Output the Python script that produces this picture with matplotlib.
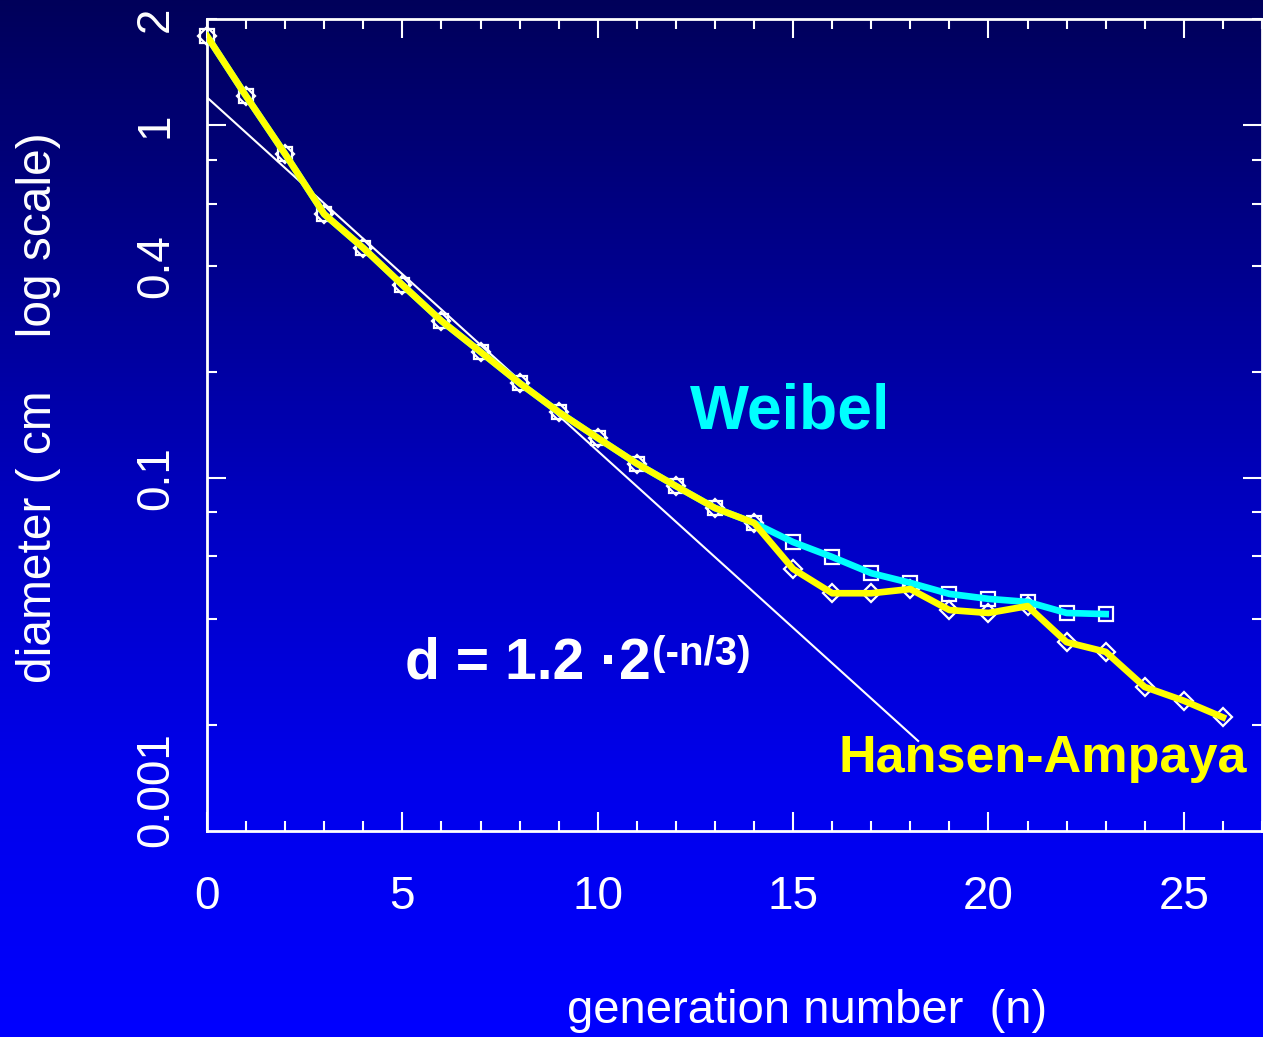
import numpy as np
import matplotlib
matplotlib.use('Agg')
import matplotlib.pyplot as plt
import matplotlib.transforms as mtransforms
from matplotlib.ticker import FixedLocator, MultipleLocator, FuncFormatter

plt.rcParams['font.family'] = ['Liberation Sans', 'DejaVu Sans']

# Hansen-Ampaya: diameter (cm) per generation 0..26
ha_gen = list(range(27))
ha_diam = [1.79, 1.21, 0.829, 0.560, 0.449, 0.353, 0.279, 0.228, 0.186, 0.154,
           0.130, 0.110, 0.095, 0.0823, 0.0747, 0.0553, 0.0472, 0.0472, 0.0485,
           0.0423, 0.0415, 0.0434, 0.0343, 0.0322, 0.0256, 0.0234, 0.0210]

# Weibel: diameter (cm) per generation 0..23
wb_gen = list(range(24))
wb_diam = [1.79, 1.21, 0.829, 0.560, 0.449, 0.353, 0.279, 0.228, 0.186, 0.154,
           0.130, 0.110, 0.095, 0.0823, 0.0747, 0.0659, 0.0598, 0.0538, 0.0505,
           0.0470, 0.0455, 0.0446, 0.0415, 0.0412]

# d = 1.2 * 2^(-n/3), straight on log axis: end points
fit_gen = [0, 18.2]
fit_diam = [1.2, 0.018]

# y axis ticks and their (original) labels
y_major = [1, 0.1]
y_minor = [2, 0.8, 0.6, 0.4, 0.2, 0.08, 0.06, 0.04, 0.02]
y_labels = {2: '2', 1: '1', 0.4: '0.4', 0.1: '0.1'}
y_bottom_label = '0.001'

fig = plt.figure(figsize=(12.63, 10.37), dpi=100)

# background gradient: dark navy at top -> bright blue at bottom
bg = fig.add_axes([0, 0, 1, 1], zorder=-10)
rows = np.linspace(0, 1, 512)
blue = np.interp(rows, [0, 0.25, 0.5, 0.75, 1.0], [90, 140, 195, 235, 255]) / 255
grad = np.zeros((512, 1, 3))
grad[:, 0, 2] = blue
bg.imshow(grad, aspect='auto', extent=[0, 1, 0, 1], origin='upper')
bg.axis('off')

ax = fig.add_axes([0.1639, 0.1986, 0.8353, 0.7830])
ax.set_facecolor('none')

# markers first, lines drawn over them
ax.plot(wb_gen, wb_diam, ls='none', marker='s', ms=9.5, mfc='none', mec='white',
        mew=1.6, zorder=2, clip_on=False)
ax.plot(ha_gen, ha_diam, ls='none', marker='D', ms=9, mfc='none', mec='white',
        mew=1.6, zorder=2, clip_on=False)
ax.plot(fit_gen, fit_diam, color='white', lw=1.5, zorder=2.5)
ax.plot(wb_gen, wb_diam, color='#00FFFF', lw=4.8, zorder=3)
ax.plot(ha_gen, ha_diam, color='#FFFF00', lw=4.8, zorder=4)

ax.set_yscale('log')
ax.set_ylim(0.01, 2)
ax.set_xlim(0, 27)

ax.xaxis.set_major_locator(MultipleLocator(5))
ax.xaxis.set_minor_locator(MultipleLocator(1))
ax.yaxis.set_major_locator(FixedLocator(y_major))
ax.yaxis.set_minor_locator(FixedLocator(y_minor))
fmt = FuncFormatter(lambda v, p: y_labels.get(round(v, 4), ''))
ax.yaxis.set_major_formatter(fmt)
ax.yaxis.set_minor_formatter(fmt)

ax.tick_params(which='both', direction='in', top=True, right=True,
               colors='white', width=1.5)
ax.tick_params(which='major', length=14)
ax.tick_params(which='minor', length=7)
ax.tick_params(axis='x', which='both', labelsize=33, pad=32)
ax.tick_params(axis='y', which='both', labelsize=33, pad=21, labelrotation=90)
for lab in ax.get_yticklabels(which='both'):
    lab.set_verticalalignment('center')

for sp in ax.spines.values():
    sp.set_color('white')
    sp.set_linewidth(2)

ax.set_xlabel('generation number  (n)', fontsize=34, color='white')
ax.xaxis.set_label_coords(0.569, -0.194)
ax.set_ylabel('diameter ( cm    log scale)', fontsize=34.5, color='white')
ax.yaxis.set_label_coords(-0.138, 0.521)

# mislabelled bottom tick, placed like in the original slide
trans = mtransforms.blended_transform_factory(ax.transAxes, ax.transData)
ax.text(-0.0275, 0.0131, y_bottom_label, transform=trans, rotation=90,
        ha='right', va='center', fontsize=33, color='white', clip_on=False)

ax.text(12.37, 0.1386, 'Weibel', color='#00FFFF', fontsize=45,
        fontweight='bold', ha='left', va='baseline')
ax.text(16.15, 0.01469, 'Hansen-Ampaya', color='#FFFF00', fontsize=37.5,
        fontweight='bold', ha='left', va='baseline', clip_on=False)

formula = ax.text(5.07, 0.02714, 'd = 1.2 \u00b72', color='white', fontsize=41,
                  fontweight='bold', ha='left', va='baseline')
ax.annotate('(-n/3)', xy=(1.0, 0.47), xycoords=formula, xytext=(1, 0),
            textcoords='offset points', color='white', fontsize=29,
            fontweight='bold', ha='left', va='baseline')

fig.savefig('out.png', dpi=100)
